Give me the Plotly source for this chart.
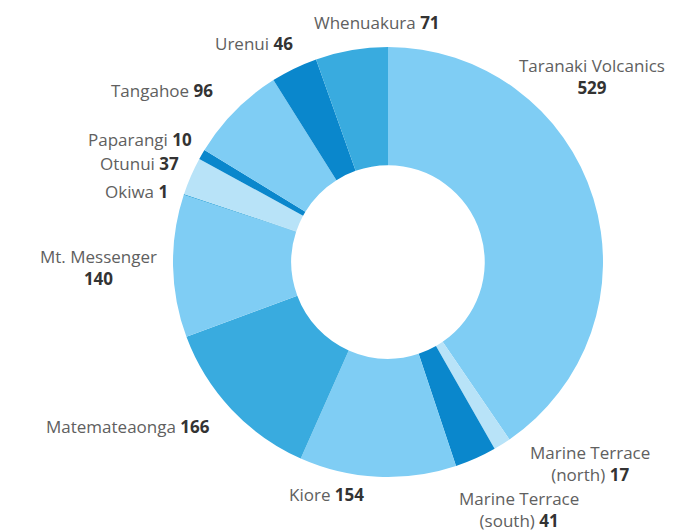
import plotly.graph_objects as go

formations = ["Taranaki Volcanics", "Marine Terrace (north)", "Marine Terrace (south)", "Kiore",
              "Matemateaonga", "Mt. Messenger", "Okiwa", "Otunui", "Paparangi", "Tangahoe",
              "Urenui", "Whenuakura"]
counts = [529, 17, 41, 154, 166, 140, 1, 37, 10, 96, 46, 71]
colors = ["#7fcdf4", "#b8e3f8", "#0a87cc", "#7fcdf4", "#39abdf", "#7fcdf4", "#39abdf",
          "#b8e3f8", "#0a87cc", "#7fcdf4", "#0a87cc", "#39abdf"]

# label text (name part; value is shown bold) and label centre positions in pixels
label_lines = [
    ("Taranaki Volcanics<br>", 584, 68),
    ("Marine Terrace<br>(north) ", 582, 455),
    ("Marine Terrace<br>(south) ", 511, 501),
    ("Kiore ", 318, 486),
    ("Matemateaonga ", 120, 418),
    ("Mt. Messenger<br>", 90, 259),
    ("Okiwa ", 128, 183),
    ("Otunui ", 131, 156),
    ("Paparangi ", 132, 131),
    ("Tangahoe ", 154, 83),
    ("Urenui ", 246, 35),
    ("Whenuakura ", 369, 15),
]

W, H = 690, 531
cx, cy, r = 380, 254, 215

fig = go.Figure(go.Pie(
    labels=formations,
    values=counts,
    sort=False,
    direction="clockwise",
    rotation=0,
    hole=0.45,
    marker=dict(colors=colors, line=dict(width=0)),
    textinfo="none",
    hoverinfo="label+value",
    showlegend=False,
    domain=dict(x=[(cx - r) / W, (cx + r) / W], y=[(H - cy - r) / H, (H - cy + r) / H]),
))

for (txt, x, y), v in zip(label_lines, counts):
    fig.add_annotation(
        x=x / W, y=1 - y / H, xref="paper", yref="paper",
        text=f"<span style='color:#606060'>{txt}</span><b>{v}</b>",
        showarrow=False, align="center", xanchor="center", yanchor="middle",
        font=dict(family="Open Sans", size=17, color="#333333"),
    )

fig.update_layout(
    width=W, height=H,
    margin=dict(l=0, r=0, t=0, b=0),
    paper_bgcolor="white", plot_bgcolor="white",
)

fig.write_html("out.html")
